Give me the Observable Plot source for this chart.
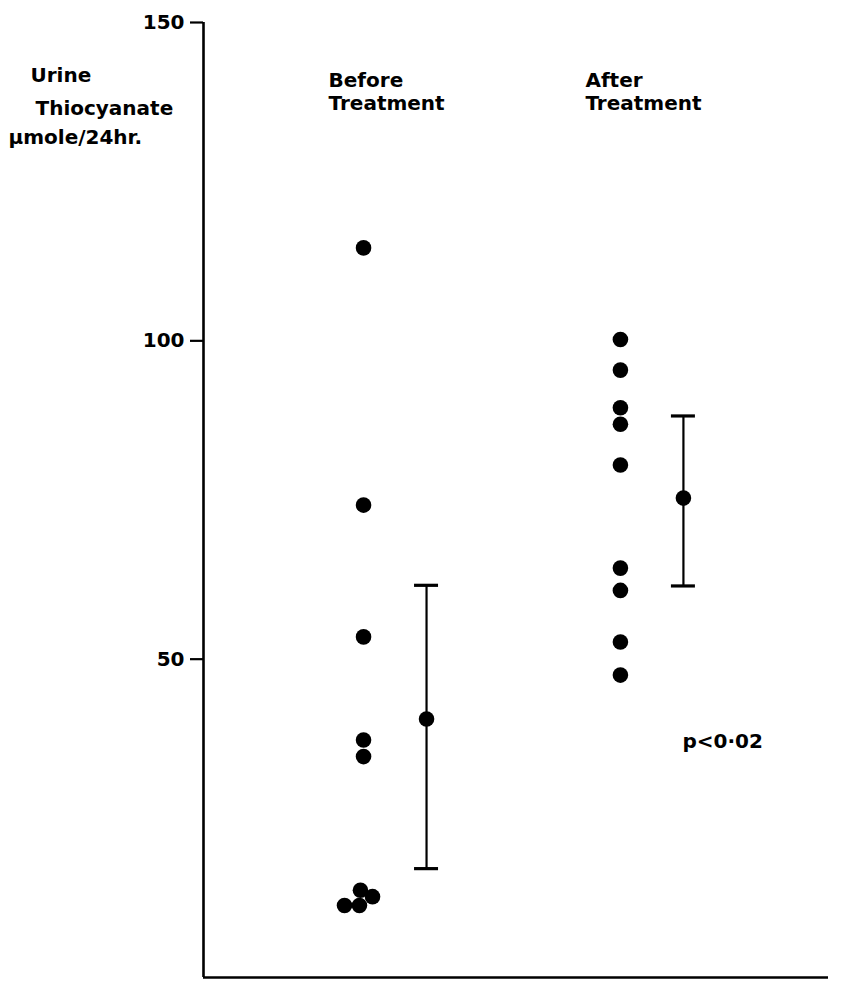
<!DOCTYPE html>
<html><head><meta charset="utf-8">
<script src="https://cdn.jsdelivr.net/npm/d3@7"></script>
<script src="https://cdn.jsdelivr.net/npm/@observablehq/plot@0.6"></script>
<style>body{margin:0;background:#fff;} svg{display:block;}</style>
</head><body><div id="chart"></div>
<script>
// ---- data ----
const groups = ["Before Treatment", "After Treatment"];
const beforeValues = [114.6, 74.2, 53.5, 37.3, 34.7, 13.7, 12.7, 11.3, 11.3];
const beforeJitter = [0, 0, 0, 0, 0, -0.012, 0.035, -0.016, -0.074];
const afterValues = [100.2, 95.4, 89.5, 86.9, 80.5, 64.3, 60.8, 52.7, 47.5];
const afterJitter = [0, 0, 0, 0, 0, 0, 0, 0, 0];
const means = [40.6, 75.3];
const sdLow = [17.1, 61.5];
const sdHigh = [61.6, 88.2];
const yTicks = [50, 100, 150];
const yLabelLines = ["Urine", "Thiocyanate", "\u03bcmole/24hr."];
const pText = "p<0\u00b702";
const pValueY = 37;

// ---- build tables ----
const points = [
  ...beforeValues.map((v, i) => ({group: 1, jitter: beforeJitter[i], value: v})),
  ...afterValues.map((v, i) => ({group: 2, jitter: afterJitter[i], value: v}))
];
const summary = groups.map((g, i) => ({group: i + 1, mean: means[i], low: sdLow[i], high: sdHigh[i]}));
const caps = summary.flatMap(d => [{group: d.group, v: d.low}, {group: d.group, v: d.high}]);

const W = 844, H = 981, mL = 203, mR = 16;
const xDomain = [0.377, 2.81];
const pxPerUnit = (W - mL - mR) / (xDomain[1] - xDomain[0]);
const meanDx = 63;   // px offset of summary from the group's points
const capHalf = 12;  // px half-width of SD caps
const font = "DejaVu Sans, sans-serif";

const chart = Plot.plot({
  width: W,
  height: H,
  marginTop: 22,
  marginBottom: 4,
  marginLeft: mL,
  marginRight: mR,
  style: {fontFamily: font, background: "#fff", color: "#000"},
  x: {domain: xDomain, axis: null},
  y: {domain: [0, 150], axis: null},
  marks: [
    Plot.axisY({ticks: yTicks, tickSize: 13, tickPadding: 6, fontSize: 20, fontWeight: "bold", strokeWidth: 2.2, tickFormat: d => String(d)}),
    Plot.ruleX([xDomain[0]], {y1: 0, y2: 150, strokeWidth: 2.6, stroke: "#000"}),
    Plot.ruleY([0], {x1: xDomain[0], x2: xDomain[1], strokeWidth: 2.6, stroke: "#000"}),
    // individual values
    Plot.dot(points, {x: d => d.group + d.jitter, y: "value", r: 7.8, fill: "#000", stroke: "none"}),
    // mean ± SD
    Plot.ruleX(summary, {x: "group", y1: "low", y2: "high", dx: meanDx, strokeWidth: 2.2, stroke: "#000"}),
    Plot.ruleY(caps, {y: "v",
      x1: d => d.group + (meanDx - capHalf) / pxPerUnit,
      x2: d => d.group + (meanDx + capHalf) / pxPerUnit,
      stroke: "#000", strokeWidth: 3.2}),
    Plot.dot(summary, {x: "group", y: "mean", dx: meanDx, r: 7.8, fill: "#000", stroke: "none"}),
    // group headers
    Plot.text(groups, {x: (d, i) => i + 1, frameAnchor: "top", dy: 48, dx: -35,
      text: d => d.replace(" ", "\n"), textAnchor: "start", lineAnchor: "top",
      lineHeight: 1.15, fontSize: 20, fontWeight: "bold", fill: "#000"}),
    // y label
    Plot.text([yLabelLines[0]], {frameAnchor: "top-left", dx: -173, dy: 53, text: d => d, textAnchor: "start", lineAnchor: "middle", fontSize: 20, fontWeight: "bold", fill: "#000"}),
    Plot.text([yLabelLines[1]], {frameAnchor: "top-left", dx: -168, dy: 86, text: d => d, textAnchor: "start", lineAnchor: "middle", fontSize: 20, fontWeight: "bold", fill: "#000"}),
    Plot.text([yLabelLines[2]], {frameAnchor: "top-left", dx: -195, dy: 115, text: d => d, textAnchor: "start", lineAnchor: "middle", fontSize: 20, fontWeight: "bold", fill: "#000"}),
    // p value
    Plot.text([pText], {x: 2, y: pValueY, dx: 62, text: d => d, textAnchor: "start", lineAnchor: "middle", fontSize: 20, fontWeight: "bold", fill: "#000"})
  ]
});

document.getElementById("chart").append(chart);
</script>
</body></html>
